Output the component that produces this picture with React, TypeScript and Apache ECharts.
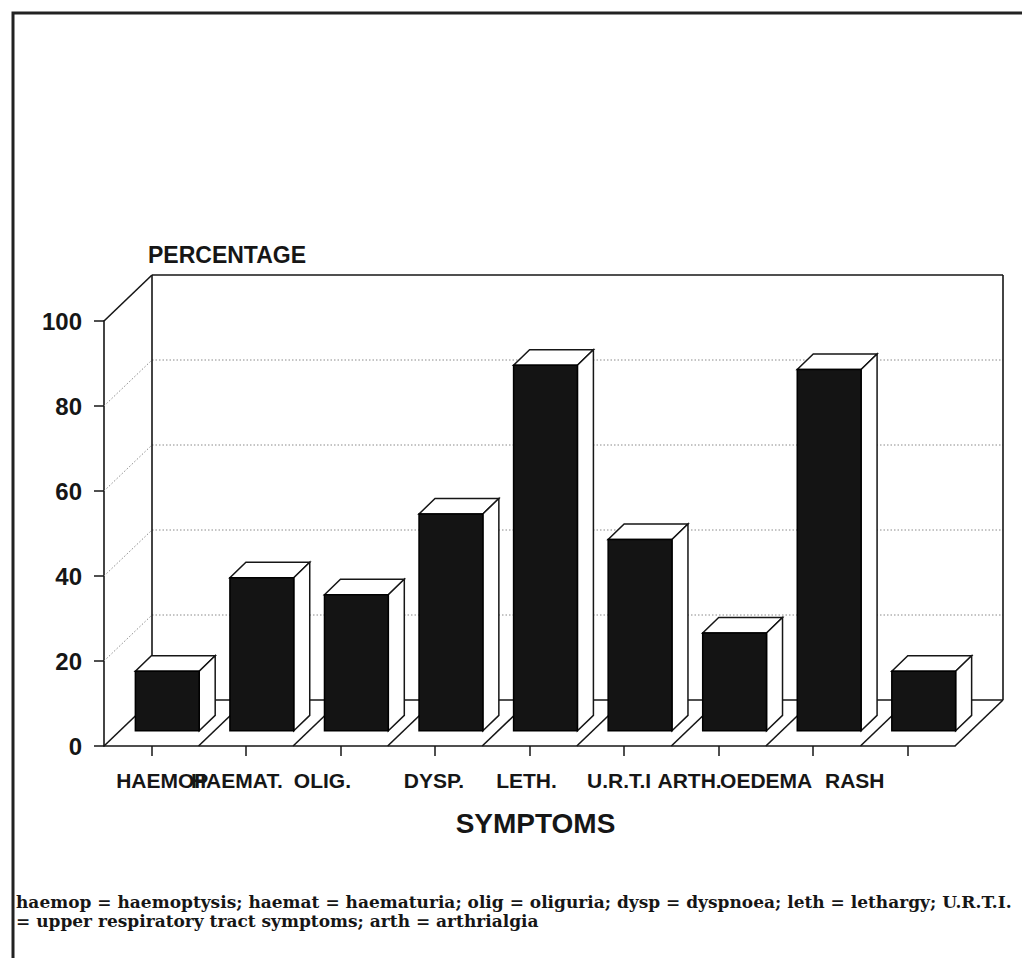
import React, { useEffect, useRef } from "react";
import * as echarts from "echarts";

// ---- data ----
const CATEGORIES = ["HAEMOP", "HAEMAT.", "OLIG.", "DYSP.", "LETH.", "U.R.T.I", "ARTH.", "OEDEMA", "RASH"];
const PERCENTAGES = [14, 36, 32, 51, 86, 45, 23, 85, 14];
const Y_TICKS = [0, 20, 40, 60, 80, 100];
const Y_NAME = "PERCENTAGE";
const X_NAME = "SYMPTOMS";
const FOOTNOTE = [
  "haemop = haemoptysis; haemat = haematuria; olig = oliguria; dysp = dyspnoea; leth = lethargy; U.R.T.I.",
  "= upper respiratory tract symptoms; arth = arthrialgia",
];

// ---- styling ----
const LABEL_SHIFT = [11, -9, -18, -1, -3, -5, -29, -47, -53];
const DX = 48; // depth offset
const DY = -46;
const BAR_RATIO = 0.675;
const SANS = "'Liberation Sans', Arial, sans-serif";
const INK = "#161616";

function frameItem(params: any, api: any) {
  const cs = params.coordSys;
  const L = cs.x;
  const R = cs.x + cs.width;
  const band = api.size([1, 0])[0];
  const yMin = Y_TICKS[0];
  const yMax = Y_TICKS[Y_TICKS.length - 1];
  const y0 = api.coord([0, yMin])[1];
  const yT = api.coord([0, yMax])[1];
  const solid = { stroke: INK, lineWidth: 1.6 };
  const dotted = { stroke: "#8a8a8a", lineWidth: 1, lineDash: [1.5, 2] };
  const ch: any[] = [];
  const line = (x1: number, y1: number, x2: number, y2: number, style: any) =>
    ch.push({ type: "line", shape: { x1, y1, x2, y2 }, style });
  Y_TICKS.forEach((v) => {
    if (v === yMin || v === yMax) return;
    const y = api.coord([0, v])[1];
    line(L + DX, y + DY, R + DX, y + DY, dotted);
    line(L, y, L + DX, y + DY, dotted);
  });
  // back wall
  line(L + DX, yT + DY, R + DX, yT + DY, solid);
  line(L + DX, yT + DY, L + DX, y0 + DY, solid);
  line(R + DX, yT + DY, R + DX, y0 + DY, solid);
  line(L + DX, y0 + DY, R + DX, y0 + DY, solid);
  // side wall top
  line(L, yT, L + DX, yT + DY, solid);
  // floor diagonals at category boundaries
  for (let k = 0; k <= CATEGORIES.length; k++) {
    const x = L + k * band;
    line(x, y0, x + DX, y0 + DY, solid);
  }
  return { type: "group", children: ch };
}

function barItem(params: any, api: any) {
  const idx = api.value(0);
  const val = api.value(1);
  const base = api.coord([idx, 0]);
  const top = api.coord([idx, val]);
  const band = api.size([1, 0])[0];
  const w = band * BAR_RATIO;
  const ddx = DX / 3;
  const ddy = DY / 3;
  const fx = base[0] - w / 2 + ddx;
  const fyT = top[1] + ddy;
  const fyB = base[1] + ddy;
  const edge = { stroke: INK, lineWidth: 1.5, fill: "#ffffff" };
  return {
    type: "group",
    children: [
      {
        type: "polygon",
        shape: { points: [[fx, fyT], [fx + w, fyT], [fx + w + ddx, fyT + ddy], [fx + ddx, fyT + ddy]] },
        style: edge,
      },
      {
        type: "polygon",
        shape: { points: [[fx + w, fyT], [fx + w + ddx, fyT + ddy], [fx + w + ddx, fyB + ddy], [fx + w, fyB]] },
        style: edge,
      },
      {
        type: "rect",
        shape: { x: fx, y: fyT, width: w, height: fyB - fyT },
        style: { fill: "#141414", stroke: "#000", lineWidth: 1.5 },
      },
    ],
  };
}

export default function App() {
  const ref = useRef<HTMLDivElement>(null);
  useEffect(() => {
    const chart = echarts.init(ref.current!, null, { renderer: "svg" });
    const rich: any = {};
    LABEL_SHIFT.forEach((s, i) => {
      rich["l" + i] = {
        fontFamily: SANS,
        fontWeight: "bold",
        fontSize: 21,
        color: INK,
        padding: s >= 0 ? [0, 0, 0, 2 * s] : [0, -2 * s, 0, 0],
      };
    });
    chart.setOption({
      animation: false,
      backgroundColor: "#ffffff",
      grid: { left: 104, right: 67, top: 321, bottom: 212, containLabel: false, outerBoundsMode: "none" },
      xAxis: {
        type: "category",
        data: CATEGORIES,
        name: X_NAME,
        nameLocation: "middle",
        nameGap: 77,
        nameTextStyle: {
          fontFamily: SANS,
          fontWeight: "bold",
          fontSize: 28,
          color: INK,
          verticalAlign: "middle",
          padding: [0, 0, 0, 12],
        },
        axisLine: { show: true, lineStyle: { color: INK, width: 1.6 } },
        axisTick: { show: true, alignWithLabel: true, length: 10, lineStyle: { color: INK, width: 1.5 } },
        axisLabel: {
          interval: 0,
          margin: 24,
          formatter: (v: string, i: number) => `{l${i}|${v}}`,
          rich,
        },
        splitLine: { show: false },
      },
      yAxis: {
        type: "value",
        min: Y_TICKS[0],
        max: Y_TICKS[Y_TICKS.length - 1],
        interval: Y_TICKS[1] - Y_TICKS[0],
        name: Y_NAME,
        nameLocation: "end",
        nameGap: 66,
        nameTextStyle: {
          fontFamily: SANS,
          fontWeight: "bold",
          fontSize: 23,
          color: INK,
          align: "left",
          verticalAlign: "middle",
          padding: [0, 0, 0, 44],
        },
        axisLine: { show: true, lineStyle: { color: INK, width: 1.6 } },
        axisTick: { show: true, length: 10, lineStyle: { color: INK, width: 1.5 } },
        axisLabel: { margin: 22, fontFamily: SANS, fontWeight: "bold", fontSize: 24, color: INK },
        splitLine: { show: false },
      },
      series: [
        {
          type: "custom",
          name: "frame",
          z: 1,
          silent: true,
          clip: false,
          data: [[0, 0]],
          renderItem: frameItem,
        },
        {
          type: "custom",
          name: "bars",
          z: 2,
          clip: false,
          data: PERCENTAGES.map((v, i) => [i, v]),
          renderItem: barItem,
        },
      ],
      graphic: [
        {
          type: "rect",
          shape: { x: 13, y: 13, width: 1040, height: 990 },
          style: { fill: "none", stroke: "#222", lineWidth: 3 },
          silent: true,
        },
        {
          type: "text",
          left: 16,
          top: 892,
          style: {
            text: FOOTNOTE.join("\n"),
            font: "bold 17px 'DejaVu Serif', serif",
            lineHeight: 19,
            fill: INK,
          },
        },
      ],
    });
    return () => chart.dispose();
  }, []);
  return (
    <div
      ref={ref}
      style={{ position: "absolute", left: 0, top: 0, width: 1022, height: 958, background: "#fff" }}
    />
  );
}
